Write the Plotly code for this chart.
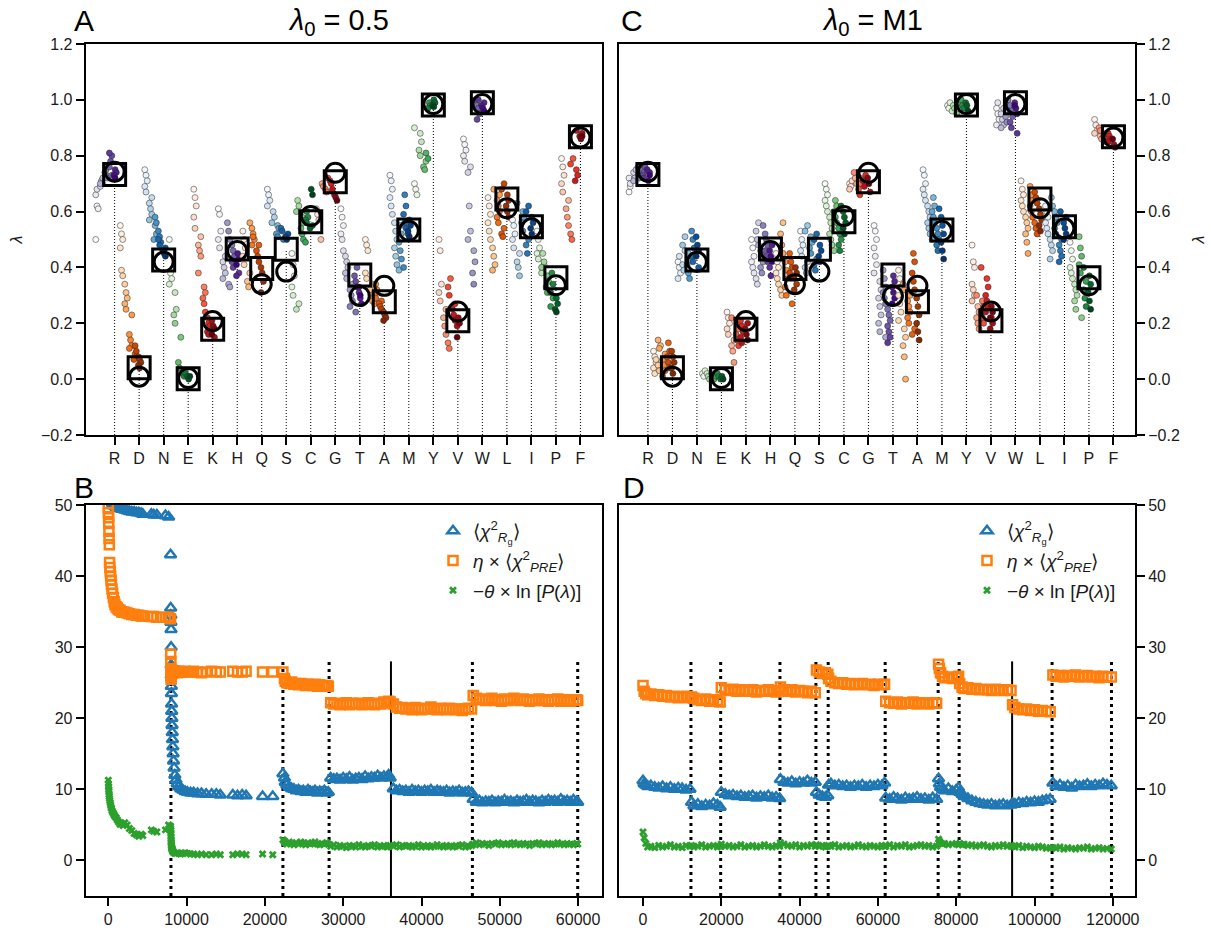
import plotly.graph_objects as go
from plotly.colors import sample_colorscale

# ---------------------------------------------------------------- top panels
CATEGORIES = ["R", "D", "N", "E", "K", "H", "Q", "S", "C", "G",
              "T", "A", "M", "Y", "V", "W", "L", "I", "P", "F"]
LAMBDA_SQUARE = [0.733, 0.041, 0.427, 0.001, 0.179, 0.466, 0.396, 0.465, 0.564, 0.707,
                 0.373, 0.277, 0.534, 0.982, 0.209, 0.990, 0.645, 0.546, 0.363, 0.868]
LAMBDA_CIRCLE = [0.743, 0.009, 0.420, 0.004, 0.208, 0.459, 0.340, 0.385, 0.584, 0.739,
                 0.298, 0.334, 0.531, 0.985, 0.242, 0.985, 0.612, 0.540, 0.336, 0.865]

# sampled lambda values per residue, ordered from early (light) to late (dark)
SAMPLES_05 = [
    [0.50, 0.62, 0.61, 0.66, 0.68, 0.70, 0.69, 0.71, 0.72, 0.70, 0.73, 0.72, 0.74, 0.75, 0.73, 0.76, 0.78, 0.80, 0.81, 0.75, 0.74, 0.73, 0.72],
    [0.55, 0.52, 0.50, 0.47, 0.39, 0.37, 0.34, 0.31, 0.29, 0.27, 0.25, 0.23, 0.16, 0.14, 0.12, 0.11, 0.09, 0.08, 0.07, 0.12, 0.10, 0.08, 0.07, 0.06, 0.05, 0.04],
    [0.75, 0.73, 0.71, 0.69, 0.67, 0.65, 0.63, 0.61, 0.59, 0.57, 0.55, 0.52, 0.50, 0.58, 0.56, 0.53, 0.51, 0.49, 0.50, 0.48, 0.47, 0.46, 0.45, 0.44],
    [0.50, 0.38, 0.36, 0.34, 0.31, 0.25, 0.23, 0.20, 0.15, 0.06, 0.04, 0.03, 0.02, 0.01, 0.02, 0.01, 0.00, 0.01],
    [0.68, 0.65, 0.62, 0.58, 0.54, 0.51, 0.48, 0.46, 0.44, 0.38, 0.33, 0.31, 0.29, 0.27, 0.24, 0.22, 0.20, 0.19, 0.17, 0.16, 0.15, 0.21, 0.19, 0.18, 0.16],
    [0.61, 0.59, 0.53, 0.50, 0.47, 0.44, 0.42, 0.40, 0.38, 0.36, 0.34, 0.33, 0.56, 0.53, 0.50, 0.48, 0.46, 0.44, 0.42, 0.40, 0.38, 0.37, 0.45, 0.43, 0.41],
    [0.53, 0.50, 0.47, 0.44, 0.41, 0.38, 0.35, 0.33, 0.56, 0.54, 0.52, 0.50, 0.48, 0.51, 0.48, 0.46, 0.44, 0.42, 0.40, 0.38, 0.35, 0.31],
    [0.68, 0.66, 0.64, 0.62, 0.60, 0.58, 0.56, 0.55, 0.54, 0.52, 0.51, 0.50, 0.54, 0.53, 0.52, 0.51, 0.50],
    [0.45, 0.41, 0.37, 0.33, 0.30, 0.27, 0.25, 0.64, 0.62, 0.60, 0.58, 0.56, 0.54, 0.52, 0.50, 0.49, 0.60, 0.58, 0.57, 0.56, 0.55, 0.54, 0.68, 0.66],
    [0.61, 0.59, 0.57, 0.50, 0.70, 0.69, 0.68, 0.67, 0.72, 0.71, 0.70, 0.68, 0.66, 0.65, 0.64],
    [0.61, 0.58, 0.55, 0.52, 0.50, 0.46, 0.44, 0.42, 0.40, 0.38, 0.36, 0.34, 0.32, 0.30, 0.28, 0.26, 0.24, 0.40, 0.37, 0.35, 0.33, 0.31, 0.29, 0.27, 0.33, 0.30],
    [0.50, 0.48, 0.46, 0.38, 0.36, 0.34, 0.32, 0.30, 0.28, 0.27, 0.34, 0.32, 0.30, 0.29, 0.28, 0.27, 0.26, 0.25, 0.24, 0.23, 0.22, 0.21],
    [0.73, 0.71, 0.68, 0.65, 0.62, 0.59, 0.56, 0.53, 0.50, 0.47, 0.44, 0.41, 0.39, 0.55, 0.52, 0.49, 0.46, 0.43, 0.40, 0.66, 0.62, 0.59, 0.56, 0.54, 0.52, 0.57, 0.55, 0.53, 0.51],
    [0.70, 0.68, 0.66, 0.90, 0.88, 0.85, 0.82, 0.80, 0.78, 0.76, 0.75, 0.81, 0.79, 0.99, 0.98, 0.97, 1.00, 0.99, 0.98, 0.975],
    [0.50, 0.46, 0.34, 0.31, 0.28, 0.25, 0.22, 0.19, 0.16, 0.13, 0.11, 0.36, 0.33, 0.30, 0.27, 0.25, 0.23, 0.21, 0.19, 0.22, 0.20, 0.15],
    [0.86, 0.84, 0.82, 0.80, 0.78, 0.76, 0.74, 0.62, 0.53, 0.50, 0.46, 0.42, 0.38, 0.34, 1.00, 0.98, 0.97, 0.95, 0.93, 1.00, 0.99, 0.98, 0.97, 0.96],
    [0.65, 0.62, 0.59, 0.56, 0.53, 0.50, 0.47, 0.44, 0.41, 0.39, 0.68, 0.66, 0.64, 0.62, 0.60, 0.58, 0.56, 0.54, 0.52, 0.51, 0.70, 0.68, 0.66, 0.64, 0.62, 0.60, 0.58],
    [0.57, 0.55, 0.52, 0.50, 0.47, 0.45, 0.42, 0.40, 0.37, 0.63, 0.60, 0.58, 0.56, 0.53, 0.50, 0.48, 0.45, 0.62, 0.60, 0.58, 0.56, 0.54, 0.52],
    [0.53, 0.50, 0.47, 0.45, 0.43, 0.41, 0.38, 0.45, 0.42, 0.40, 0.37, 0.35, 0.33, 0.31, 0.29, 0.26, 0.38, 0.34, 0.31, 0.29, 0.27, 0.25, 0.24],
    [0.79, 0.76, 0.73, 0.70, 0.67, 0.64, 0.61, 0.58, 0.55, 0.52, 0.50, 0.79, 0.77, 0.75, 0.73, 0.71, 0.89, 0.88, 0.87, 0.86, 0.87],
]

SAMPLES_M1 = [
    [0.67, 0.69, 0.71, 0.72, 0.70, 0.73, 0.74, 0.72, 0.75, 0.71, 0.73, 0.74, 0.76, 0.72, 0.73, 0.75, 0.74, 0.76, 0.73, 0.72, 0.74, 0.75, 0.71, 0.73],
    [0.10, 0.08, 0.06, 0.04, 0.02, 0.07, 0.05, 0.03, 0.12, 0.14, 0.11, 0.09, 0.07, 0.05, 0.03, 0.01, 0.13, 0.10, 0.08, 0.06, 0.04, 0.10, 0.08, 0.06, 0.04, 0.02],
    [0.42, 0.40, 0.38, 0.36, 0.44, 0.46, 0.41, 0.39, 0.51, 0.48, 0.45, 0.43, 0.41, 0.38, 0.36, 0.53, 0.50, 0.47, 0.44, 0.42, 0.40, 0.51, 0.48, 0.46, 0.44],
    [0.02, 0.01, 0.03, 0.02, 0.01, 0.00, 0.02, 0.01, 0.00, 0.01, 0.02, 0.01, 0.00, 0.01, 0.00],
    [0.24, 0.22, 0.20, 0.18, 0.16, 0.14, 0.12, 0.10, 0.06, 0.22, 0.20, 0.18, 0.16, 0.14, 0.12, 0.21, 0.19, 0.17, 0.15, 0.13, 0.20, 0.18, 0.16, 0.14],
    [0.50, 0.47, 0.44, 0.42, 0.40, 0.38, 0.36, 0.34, 0.56, 0.53, 0.50, 0.48, 0.46, 0.44, 0.42, 0.40, 0.38, 0.55, 0.52, 0.50, 0.48, 0.46, 0.44, 0.42, 0.40, 0.37, 0.48, 0.46, 0.44, 0.42],
    [0.45, 0.42, 0.40, 0.38, 0.36, 0.34, 0.32, 0.30, 0.56, 0.52, 0.48, 0.45, 0.42, 0.39, 0.36, 0.33, 0.30, 0.27, 0.45, 0.42, 0.40, 0.38, 0.36, 0.34, 0.32, 0.40, 0.38, 0.36],
    [0.53, 0.50, 0.48, 0.46, 0.44, 0.42, 0.40, 0.38, 0.55, 0.53, 0.51, 0.49, 0.47, 0.45, 0.43, 0.41, 0.39, 0.52, 0.50, 0.48, 0.46, 0.44, 0.42],
    [0.70, 0.68, 0.66, 0.64, 0.62, 0.60, 0.58, 0.56, 0.54, 0.52, 0.50, 0.48, 0.46, 0.64, 0.62, 0.60, 0.58, 0.56, 0.54, 0.52, 0.50, 0.48, 0.46, 0.62, 0.60, 0.58, 0.56, 0.54, 0.52],
    [0.70, 0.69, 0.71, 0.68, 0.72, 0.70, 0.74, 0.72, 0.70, 0.68, 0.66, 0.73, 0.71, 0.69, 0.67, 0.72, 0.70],
    [0.55, 0.53, 0.50, 0.47, 0.44, 0.41, 0.38, 0.35, 0.32, 0.29, 0.26, 0.23, 0.20, 0.17, 0.15, 0.39, 0.36, 0.33, 0.31, 0.29, 0.27, 0.25, 0.23, 0.21, 0.19, 0.17, 0.15, 0.13, 0.37, 0.35, 0.33, 0.31, 0.29, 0.27],
    [0.39, 0.36, 0.33, 0.30, 0.27, 0.24, 0.21, 0.18, 0.15, 0.12, 0.08, 0.00, 0.34, 0.32, 0.30, 0.28, 0.26, 0.24, 0.22, 0.20, 0.18, 0.16, 0.45, 0.42, 0.38, 0.35, 0.32, 0.29, 0.26, 0.23, 0.20, 0.17, 0.14],
    [0.75, 0.73, 0.70, 0.68, 0.66, 0.64, 0.62, 0.60, 0.58, 0.56, 0.54, 0.52, 0.50, 0.65, 0.62, 0.60, 0.58, 0.56, 0.54, 0.52, 0.50, 0.48, 0.46, 0.61, 0.58, 0.55, 0.52, 0.49, 0.46, 0.43],
    [0.98, 0.97, 0.99, 0.96, 0.98, 0.97, 0.95, 0.98, 0.99, 1.00, 0.98, 0.97, 0.99, 0.98, 0.96],
    [0.48, 0.42, 0.40, 0.34, 0.32, 0.30, 0.28, 0.26, 0.24, 0.22, 0.20, 0.18, 0.30, 0.28, 0.26, 0.24, 0.22, 0.20, 0.40, 0.36, 0.33, 0.30, 0.28, 0.26, 0.24, 0.22, 0.20, 0.18, 0.26, 0.24, 0.22],
    [0.97, 0.95, 0.93, 0.91, 0.99, 0.97, 0.95, 0.93, 0.91, 0.90, 0.98, 0.96, 0.94, 0.92, 1.00, 0.98, 0.96, 0.94, 0.92, 0.90, 0.88, 0.99, 0.97, 0.95, 0.98],
    [0.71, 0.68, 0.66, 0.64, 0.62, 0.60, 0.58, 0.56, 0.54, 0.52, 0.49, 0.45, 0.69, 0.66, 0.64, 0.62, 0.60, 0.58, 0.56, 0.54, 0.52, 0.67, 0.65, 0.63, 0.61, 0.59, 0.57, 0.55, 0.53],
    [0.62, 0.60, 0.58, 0.56, 0.54, 0.52, 0.50, 0.48, 0.46, 0.43, 0.65, 0.62, 0.60, 0.58, 0.56, 0.54, 0.52, 0.50, 0.48, 0.46, 0.44, 0.42, 0.60, 0.58, 0.56, 0.54, 0.52, 0.50],
    [0.49, 0.46, 0.43, 0.40, 0.38, 0.36, 0.34, 0.32, 0.30, 0.28, 0.25, 0.22, 0.51, 0.47, 0.44, 0.41, 0.38, 0.35, 0.32, 0.29, 0.26, 0.40, 0.37, 0.34, 0.31, 0.28, 0.25],
    [0.93, 0.91, 0.89, 0.88, 0.87, 0.86, 0.90, 0.89, 0.88, 0.87, 0.86, 0.85, 0.88, 0.87, 0.86, 0.85, 0.84, 0.83, 0.86],
]

# ---------------------------------------------------------------- panel B (lambda0 = 0.5)
STEPS_B = [
    0, 20, 40, 60, 80, 100, 130, 160, 200, 250, 300, 350, 400, 470, 550, 650, 750, 850, 1000, 1150,
    1300, 1500, 1700, 1900, 2100, 2400, 2700, 3000, 3300, 3600, 3900, 4200, 4400, 5500, 5800, 6200, 7300, 7700,
    7950, 7970, 7990, 8000, 8010, 8020, 8030, 8040, 8050, 8060, 8080, 8100, 8120, 8140, 8170, 8200, 8240, 8280, 8330, 8400,
    8500, 8650, 8800, 9000, 9250, 9500, 9800, 10100, 10500, 10900, 11400, 11900, 12500, 13200, 13800, 14300, 15900, 16500, 17100, 17600,
    19700, 21000,
    22300, 22500, 22600, 22800, 23100, 23400, 23700, 24000, 24300, 24600, 24900, 25200, 25500, 25800, 26100, 26400, 26700, 27000, 27300, 27600,
    27900, 28100,
    28400, 28800, 29200, 29600, 30000, 30400, 30800, 31200, 31600, 32000, 32400, 32800, 33200, 33600, 34000, 34400, 34800, 35200, 35600, 35800,
    36000,
    36400, 36800, 37200, 37600, 38000, 38400, 38800, 39200, 39600, 40000, 40400, 40800, 41200, 41600, 42000, 42400, 42800, 43200, 43600, 44000,
    44400, 44800, 45200, 45600, 46000, 46400,
    46600, 47000, 47400, 47800, 48200, 48600, 49000, 49400, 49800, 50200, 50600, 51000, 51400, 51800, 52200, 52600, 53000, 53400, 53800, 54200,
    54600, 55000, 55400, 55800, 56200, 56600, 57000, 57400, 57800, 58200, 58600, 59000, 59400, 59800, 59950,
]
RG_B = [
    62.0, 60.0, 58.0, 57.0, 56.0, 55.0, 54.0, 53.0, 52.5, 52.0, 51.5, 51.0, 50.7, 50.4, 50.2, 50.0, 49.9, 49.8, 49.7, 49.6,
    49.6, 49.5, 49.4, 49.4, 49.3, 49.2, 49.1, 49.0, 49.0, 48.9, 48.9, 48.8, 48.7, 48.7, 48.6, 48.6, 48.5, 48.3,
    43.0, 35.5, 34.5, 33.5, 32.5, 30.0, 27.5, 26.0, 24.5, 23.5, 22.0, 21.0, 20.0, 19.0, 18.0, 17.0, 16.0, 15.0, 14.0, 13.0,
    12.0, 11.3, 10.8, 10.4, 10.1, 9.9, 9.7, 9.6, 9.5, 9.5, 9.4, 9.4, 9.3, 9.3, 9.3, 9.2, 9.2, 9.1, 9.2, 9.1,
    9.0, 9.0,
    12.2, 11.6, 11.0, 10.6, 10.3, 10.1, 10.0, 9.8, 9.9, 9.7, 9.8, 9.6, 9.9, 9.7, 9.6, 9.8, 9.5, 9.7, 9.6, 9.8,
    9.5, 9.6,
    11.6, 11.4, 11.5, 11.3, 11.6, 11.4, 11.7, 11.3, 11.5, 11.6, 11.4, 11.8, 11.5, 11.7, 11.6, 11.9, 11.6, 11.8, 11.7, 12.0,
    11.6,
    10.1, 9.8, 9.9, 9.7, 9.8, 9.6, 9.9, 9.7, 9.8, 9.6, 9.8, 9.7, 9.9, 9.6, 9.8, 9.7, 9.6, 9.8, 9.5, 9.7,
    9.6, 9.8, 9.5, 9.6, 9.7, 9.5,
    8.6, 8.2, 8.4, 8.1, 8.3, 8.2, 8.4, 8.1, 8.3, 8.2, 8.5, 8.2, 8.3, 8.1, 8.4, 8.2, 8.3, 8.5, 8.2, 8.4,
    8.3, 8.1, 8.4, 8.2, 8.5, 8.3, 8.4, 8.2, 8.6, 8.3, 8.4, 8.2, 8.5, 8.3, 8.2,
]
PRE_B = [
    49.6, 48.9, 48.2, 47.4, 46.3, 45.3, 44.4, 41.9, 41.2, 40.6, 40.0, 39.4, 38.8, 38.2, 37.6, 37.0, 36.4, 36.0, 35.7, 35.5,
    35.3, 35.2, 35.0, 34.9, 34.9, 34.8, 34.7, 34.6, 34.6, 34.5, 34.5, 34.4, 34.4, 34.3, 34.3, 34.2, 34.2, 34.2,
    34.0, 29.0, 28.0, 27.0, 26.0, 25.5, 25.8, 26.2, 26.5, 26.6, 26.8, 26.5, 26.3, 26.6, 26.5, 26.4, 26.6, 26.5, 26.7, 26.5,
    26.6, 26.5, 26.4, 26.6, 26.5, 26.5, 26.6, 26.5, 26.5, 26.6, 26.5, 26.4, 26.5, 26.6, 26.5, 26.5, 26.6, 26.5, 26.5, 26.6,
    26.5, 26.5,
    26.5, 25.6, 25.2, 25.0, 24.9, 25.1, 24.8, 24.9, 24.7, 24.9, 24.8, 24.6, 24.8, 24.7, 24.6, 24.8, 24.5, 24.7, 24.6, 24.5,
    24.6, 24.5,
    22.2, 22.0, 22.1, 21.9, 22.0, 22.2, 21.9, 22.1, 22.0, 22.1, 21.9, 22.0, 22.2, 22.0, 21.9, 22.1, 22.0, 22.3, 22.2, 22.4,
    22.3,
    22.0, 21.6, 21.4, 21.5, 21.3, 21.4, 21.2, 21.5, 21.3, 21.2, 21.4, 21.3, 21.6, 21.3, 21.2, 21.4, 21.3, 21.2, 21.4, 21.3,
    21.2, 21.3, 21.1, 21.3, 21.4, 21.3,
    23.2, 22.8, 22.6, 22.7, 22.5, 22.6, 22.8, 22.5, 22.6, 22.4, 22.7, 22.5, 22.6, 22.8, 22.6, 22.5, 22.7, 22.6, 22.4, 22.6,
    22.5, 22.7, 22.5, 22.6, 22.4, 22.6, 22.5, 22.7, 22.4, 22.5, 22.6, 22.4, 22.5, 22.6, 22.5,
]
PRIOR_B = [
    11.3, 10.8, 10.4, 10.0, 9.7, 9.3, 9.0, 8.7, 8.4, 8.1, 7.8, 7.5, 7.3, 7.0, 6.8, 6.6, 6.4, 6.2, 6.0, 5.7,
    5.4, 5.1, 5.2, 4.9, 5.3, 5.0, 4.5, 4.2, 3.8, 3.6, 3.4, 3.7, 3.5, 4.3, 4.1, 4.0, 4.3, 5.0,
    4.8, 4.5, 4.2, 3.8, 3.4, 3.0, 2.7, 2.5, 2.3, 2.1, 1.9, 1.8, 1.7, 1.6, 1.5, 1.4, 1.3, 1.2, 1.2, 1.1,
    1.0, 1.0, 1.1, 1.0, 0.9, 1.0, 1.1, 1.0, 0.9, 0.9, 0.8, 0.9, 0.8, 0.8, 0.9, 0.8, 0.8, 0.9, 0.9, 0.8,
    0.9, 0.8,
    2.9, 2.7, 2.5, 2.3, 2.6, 2.4, 2.2, 2.5, 2.3, 2.6, 2.4, 2.2, 2.5, 2.3, 2.4, 2.6, 2.3, 2.2, 2.4, 2.3,
    2.5, 2.3,
    2.0, 2.2, 1.9, 2.1, 2.0, 1.8, 2.1, 2.0, 1.9, 2.2, 2.0, 1.9, 2.1, 2.0, 2.2, 1.9, 2.0, 2.1, 1.9, 2.0,
    2.1,
    2.0, 2.2, 1.9, 2.1, 2.0, 2.1, 1.9, 2.0, 2.2, 1.9, 2.0, 2.1, 1.9, 2.0, 2.2, 2.0, 1.9, 2.1, 2.0, 1.9,
    2.1, 2.0, 2.2, 1.9, 2.0, 2.1,
    2.3, 2.5, 2.2, 2.4, 2.3, 2.1, 2.4, 2.3, 2.5, 2.2, 2.3, 2.4, 2.2, 2.5, 2.3, 2.2, 2.4, 2.3, 2.1, 2.4,
    2.3, 2.5, 2.2, 2.3, 2.4, 2.2, 2.3, 2.5, 2.3, 2.2, 2.4, 2.3, 2.2, 2.4, 2.3,
]
UPDATES_B = [8000, 22300, 28200, 46500, 59950]
BEST_B = [36100]

# ---------------------------------------------------------------- panel D (lambda0 = M1)
STEPS_D = [
    0, 300, 700, 1200, 2000, 3000, 4000, 5000, 6000, 7000, 8000, 9000, 10000, 11000, 12000,
    12400, 13000, 14000, 15000, 16000, 17000, 18000, 19000, 19700,
    20000, 21000, 22000, 23000, 24000, 25000, 26000, 27000, 28000, 29000, 30000, 31000, 32000, 33000, 34000, 34900,
    35100, 36000, 37000, 38000, 39000, 40000, 41000, 42000, 43000, 44000,
    44300, 45000, 45800, 46600, 47200,
    47400, 48000, 49000, 50000, 51000, 52000, 53000, 54000, 55000, 56000, 57000, 58000, 59000, 60000, 61000, 61700,
    62000, 63000, 64000, 65000, 66000, 67000, 68000, 69000, 70000, 71000, 72000, 73000, 74000, 75000,
    75500, 75700, 76000, 76500, 77000, 78000, 79000, 80000, 80600,
    80900, 81500, 82000, 83000, 84000, 85000, 86000, 87000, 88000, 89000, 90000, 91000, 92000, 93000, 94000,
    94400, 95000, 96000, 97000, 98000, 99000, 100000, 101000, 102000, 103000, 104000,
    104700, 105500, 106500, 107500, 108500, 109500, 110500, 111500, 112500, 113500, 114500, 115500, 116500, 117500, 118500, 119600,
]
RG_D = [
    11.2, 10.8, 10.6, 10.4, 10.5, 10.3, 10.2, 10.4, 10.1, 10.3, 10.0, 10.2, 10.1, 9.9, 10.0,
    8.2, 7.7, 7.9, 7.6, 7.8, 7.7, 8.0, 7.8, 7.5,
    9.6, 9.3, 9.1, 9.2, 9.0, 9.1, 8.9, 9.0, 9.1, 8.8, 9.0, 8.9, 9.1, 8.8, 8.9, 8.7,
    11.4, 11.0, 10.9, 11.1, 10.8, 11.0, 10.9, 11.2, 10.9, 11.0,
    9.6, 9.2, 9.0, 8.9, 9.1,
    10.6, 10.8, 10.5, 10.6, 10.4, 10.5, 10.3, 10.5, 10.4, 10.6, 10.3, 10.5, 10.4, 10.6, 10.5, 10.9,
    8.8, 8.6, 8.9, 8.7, 8.5, 8.8, 8.6, 8.7, 8.9, 8.6, 8.7, 8.5, 8.8, 8.6,
    11.5, 10.8, 10.3, 10.0, 9.8, 10.1, 9.7, 9.9, 10.2,
    9.6, 9.3, 9.0, 8.7, 8.4, 8.2, 8.0, 7.9, 7.8, 7.9, 7.7, 7.8, 7.9, 7.7, 7.8,
    8.0, 7.9, 8.1, 8.0, 8.2, 8.1, 8.3, 8.2, 8.4, 8.5, 8.6,
    10.9, 10.4, 10.6, 10.3, 10.5, 10.2, 10.6, 10.4, 10.5, 10.7, 10.4, 10.6, 10.5, 10.8, 10.6, 10.5,
]
PRE_D = [
    24.6, 23.8, 23.5, 23.3, 23.4, 23.2, 23.3, 23.1, 23.2, 23.0, 23.1, 22.9, 23.0, 23.1, 22.9,
    23.0, 22.8, 22.6, 22.5, 22.7, 22.4, 22.6, 22.5, 22.3,
    24.3, 24.0, 23.9, 24.1, 23.8, 24.0, 23.9, 23.8, 24.0, 23.7, 23.9, 23.8, 24.0, 23.8, 23.7, 23.9,
    24.4, 24.0, 23.8, 24.0, 23.7, 23.9, 23.8, 23.6, 23.8, 23.6,
    26.8, 26.5, 26.3, 26.4, 26.2,
    25.6, 25.2, 25.0, 24.9, 25.0, 24.8, 24.9, 24.7, 24.8, 24.9, 24.7, 24.8, 24.6, 24.8, 24.7, 24.8,
    22.4, 22.2, 22.1, 22.3, 22.0, 22.2, 22.1, 22.3, 22.0, 22.2, 22.1, 22.0, 22.2, 22.1,
    27.6, 27.0, 26.4, 25.9, 25.7, 25.8, 25.6, 25.7, 25.9,
    24.9, 24.4, 24.2, 24.3, 24.1, 24.2, 24.0, 24.1, 24.0, 23.9, 24.1, 24.0, 23.9, 24.0, 23.9,
    21.9, 21.5, 21.3, 21.2, 21.3, 21.1, 21.2, 21.0, 21.1, 21.0, 20.9,
    26.1, 25.9, 26.0, 25.8, 26.0, 25.9, 26.1, 25.8, 25.9, 26.0, 25.8, 25.9, 25.7, 25.9, 25.8, 25.8,
]
PRIOR_D = [
    4.0, 3.2, 2.4, 1.9, 2.0, 1.8, 2.1, 1.9, 2.0, 2.2, 1.9, 2.0, 1.8, 2.1, 2.0,
    2.1, 1.9, 2.0, 2.2, 1.9, 2.0, 2.1, 1.9, 2.0,
    2.3, 2.0, 2.1, 1.9, 2.0, 2.2, 1.9, 2.0, 2.1, 1.9, 2.0, 2.2, 2.0, 1.9, 2.1, 2.0,
    2.5, 2.3, 2.1, 2.0, 2.2, 1.9, 2.1, 2.0, 2.2, 2.0,
    2.2, 2.0, 2.1, 1.9, 2.0,
    2.1, 2.0, 2.2, 1.9, 2.0, 2.1, 1.9, 2.0, 2.2, 2.0, 1.9, 2.1, 2.0, 1.9, 2.1, 2.0,
    2.0, 2.2, 1.9, 2.1, 2.0, 2.2, 1.9, 2.0, 2.1, 2.2, 2.0, 2.1, 1.9, 2.0,
    3.0, 2.7, 2.5, 2.3, 2.4, 2.2, 2.3, 2.4, 2.2,
    2.4, 2.2, 2.3, 2.1, 2.2, 2.0, 2.1, 2.2, 2.0, 1.9, 2.1, 2.0, 2.2, 2.0, 2.1,
    2.0, 1.9, 2.1, 1.8, 2.0, 1.9, 1.8, 2.0, 1.9, 1.7, 1.8,
    1.8, 1.7, 1.9, 1.6, 1.8, 1.7, 1.6, 1.8, 1.7, 1.9, 1.6, 1.7, 1.8, 1.6, 1.7, 1.6,
]
UPDATES_D = [12250, 19840, 34980, 44170, 47300, 61860, 75390, 80750, 104490, 119660]
BEST_D = [94280]

TICKS_B = [0, 10000, 20000, 30000, 40000, 50000, 60000]
TICKS_D = [0, 20000, 40000, 60000, 80000, 100000, 120000]
TICKS_LAMBDA = [-0.2, 0.0, 0.2, 0.4, 0.6, 0.8, 1.0, 1.2]
TICKS_ENERGY = [0, 10, 20, 30, 40, 50]

for a, b in [(STEPS_B, RG_B), (STEPS_B, PRE_B), (STEPS_B, PRIOR_B),
             (STEPS_D, RG_D), (STEPS_D, PRE_D), (STEPS_D, PRIOR_D)]:
    assert len(a) == len(b), (len(a), len(b))

# ---------------------------------------------------------------- styling
W, H = 1211, 931
FONT = "Liberation Sans, Arial, sans-serif"
FAMILIES = ["Purples", "Oranges", "Blues", "Greens", "Reds"]
C_RG, C_PRE, C_PRIOR = "#1f77b4", "#ff7f0e", "#2ca02c"


def px_x(p):
    return p / W


def px_y(p):
    return 1 - p / H


X_TOP_LEFT = [px_x(85.7), px_x(602)]
X_TOP_RIGHT = [px_x(619), px_x(1135)]
Y_TOP = [px_y(435), px_y(44)]
Y_BOTTOM = [px_y(896), px_y(505)]

fig = go.Figure()


def add_lambda_panel(samples, xa, ya):
    # dotted guide lines from the bottom of the axis to the target value
    gx, gy = [], []
    for i, v in enumerate(LAMBDA_SQUARE):
        gx += [i, i, None]
        gy += [TICKS_LAMBDA[0], v, None]
    fig.add_trace(go.Scatter(x=gx, y=gy, mode="lines", xaxis=xa, yaxis=ya,
                             line=dict(color="black", width=1, dash="1px,2px"),
                             showlegend=False, hoverinfo="skip"))
    xs, ys, cs = [], [], []
    n_cols = 5
    for i, vals in enumerate(samples):
        n = len(vals)
        shades = sample_colorscale(FAMILIES[i % 5], [0.02 + 0.98 * k / (n - 1) for k in range(n)])
        for k, v in enumerate(vals):
            col = k * n_cols // n
            off = -0.72 + 0.74 * col / (n_cols - 1) + 0.05 * ((k % 3) - 1)
            xs.append(i + off)
            ys.append(v)
            cs.append(shades[k])
    fig.add_trace(go.Scatter(x=xs, y=ys, mode="markers", xaxis=xa, yaxis=ya,
                             marker=dict(size=6, color=cs,
                                         line=dict(color="rgba(40,40,40,0.85)", width=0.6)),
                             showlegend=False, hoverinfo="skip"))
    fig.add_trace(go.Scatter(x=list(range(len(CATEGORIES))), y=LAMBDA_SQUARE, mode="markers",
                             xaxis=xa, yaxis=ya,
                             marker=dict(symbol="square-open", size=22, color="black",
                                         line=dict(width=3)),
                             showlegend=False, hoverinfo="skip"))
    fig.add_trace(go.Scatter(x=list(range(len(CATEGORIES))), y=LAMBDA_CIRCLE, mode="markers",
                             xaxis=xa, yaxis=ya,
                             marker=dict(symbol="circle-open", size=19, color="black",
                                         line=dict(width=3)),
                             showlegend=False, hoverinfo="skip"))


def add_energy_panel(steps, rg, pre, prior, updates, best, xa, ya, legend):
    lx, ly = [], []
    for e in updates:
        lx += [e, e, None]
        ly += [-5, 28, None]
    fig.add_trace(go.Scatter(x=lx, y=ly, mode="lines", xaxis=xa, yaxis=ya,
                             line=dict(color="black", width=3, dash="3px,4px"),
                             showlegend=False, hoverinfo="skip"))
    bx, by = [], []
    for e in best:
        bx += [e, e, None]
        by += [-5, 28, None]
    fig.add_trace(go.Scatter(x=bx, y=by, mode="lines", xaxis=xa, yaxis=ya,
                             line=dict(color="black", width=2),
                             showlegend=False, hoverinfo="skip"))
    names = ["⟨<i>χ</i><sup>2</sup><sub><i>R</i><sub>g</sub></sub>⟩",
             "<i>η</i> × ⟨<i>χ</i><sup>2</sup><sub><i>PRE</i></sub>⟩",
             "−<i>θ</i> × ln [<i>P</i>(<i>λ</i>)]"]
    specs = [(rg, "triangle-up-open", C_RG, 10, 2.5),
             (pre, "square-open", C_PRE, 9, 2.5),
             (prior, "x", C_PRIOR, 7, 0)]
    for k, (vals, sym, col, sz, lw) in enumerate(specs):
        fig.add_trace(go.Scatter(x=steps, y=vals, mode="markers", xaxis=xa, yaxis=ya,
                                 name=names[k], legend=legend, legendgroup=f"{legend}{k}",
                                 marker=dict(symbol=sym, size=sz, color=col,
                                             line=dict(color=col, width=lw)),
                                 hoverinfo="skip"))


add_lambda_panel(SAMPLES_05, "x", "y")
add_lambda_panel(SAMPLES_M1, "x2", "y2")
add_energy_panel(STEPS_B, RG_B, PRE_B, PRIOR_B, UPDATES_B, BEST_B, "x3", "y3", "legend")
add_energy_panel(STEPS_D, RG_D, PRE_D, PRIOR_D, UPDATES_D, BEST_D, "x4", "y4", "legend2")

axis_common = dict(showline=True, linecolor="black", linewidth=2, mirror=True,
                   ticks="outside", ticklen=8, tickwidth=2, tickcolor="black",
                   showgrid=False, zeroline=False, automargin=False,
                   tickfont=dict(family=FONT, size=16, color="#1a1a1a"))

lam_title = dict(text="<i>λ</i>", font=dict(family=FONT, size=16, color="#1a1a1a"), standoff=14)

legend_style = dict(xanchor="left", yanchor="top", bgcolor="rgba(0,0,0,0)",
                    tracegroupgap=2, font=dict(family=FONT, size=19, color="#1a1a1a"))

fig.update_layout(
    width=W, height=H, autosize=False,
    margin=dict(l=0, r=0, t=0, b=0, pad=0, autoexpand=False),
    paper_bgcolor="white", plot_bgcolor="white",
    font=dict(family=FONT, color="#1a1a1a"),
    xaxis=dict(domain=X_TOP_LEFT, anchor="y", range=[-1.18, 19.88],
               tickvals=list(range(len(CATEGORIES))), ticktext=CATEGORIES, **axis_common),
    yaxis=dict(domain=Y_TOP, anchor="x", range=[-0.2, 1.2], tickvals=TICKS_LAMBDA,
               tickformat=".1f", title=lam_title, **axis_common),
    xaxis2=dict(domain=X_TOP_RIGHT, anchor="y2", range=[-1.18, 19.88],
                tickvals=list(range(len(CATEGORIES))), ticktext=CATEGORIES, **axis_common),
    yaxis2=dict(domain=Y_TOP, anchor="x2", side="right", range=[-0.2, 1.2],
                tickvals=TICKS_LAMBDA, tickformat=".1f", title=lam_title, **axis_common),
    xaxis3=dict(domain=X_TOP_LEFT, anchor="y3", range=[-2886, 63053],
                tickvals=TICKS_B, ticktext=[str(t) for t in TICKS_B], **axis_common),
    yaxis3=dict(domain=Y_BOTTOM, anchor="x3", range=[-5, 50], tickvals=TICKS_ENERGY,
                **axis_common),
    xaxis4=dict(domain=X_TOP_RIGHT, anchor="y4", range=[-6130, 125670],
                tickvals=TICKS_D, ticktext=[str(t) for t in TICKS_D], **axis_common),
    yaxis4=dict(domain=Y_BOTTOM, anchor="x4", side="right", range=[-5, 50],
                tickvals=TICKS_ENERGY, **axis_common),
    legend=dict(x=px_x(433), y=px_y(512), **legend_style),
    legend2=dict(x=px_x(967), y=px_y(512), **legend_style),
)

letters = [("A", 83.5, 21), ("C", 632, 21), ("B", 84, 487), ("D", 634, 487)]
for txt, x, y in letters:
    fig.add_annotation(text=txt, x=px_x(x), y=px_y(y), xref="paper", yref="paper",
                       xanchor="center", yanchor="middle", showarrow=False,
                       font=dict(family=FONT, size=30, color="black"))
titles = [("<i>λ</i><sub>0</sub> = 0.5", 338, 22), ("<i>λ</i><sub>0</sub> = M1", 872, 22)]
for txt, x, y in titles:
    fig.add_annotation(text=txt, x=px_x(x), y=px_y(y), xref="paper", yref="paper",
                       xanchor="center", yanchor="middle", showarrow=False,
                       font=dict(family=FONT, size=29, color="black"))

fig.write_html("out.html")
